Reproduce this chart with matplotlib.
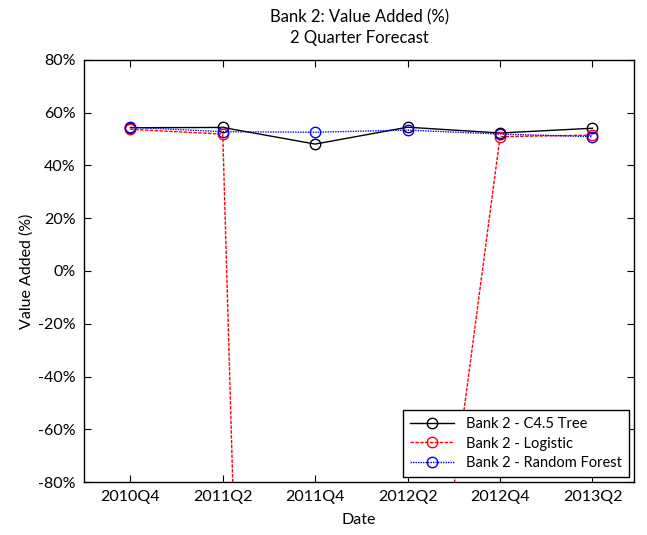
import numpy as np
import matplotlib
matplotlib.use('Agg')
import matplotlib.pyplot as plt

plt.rcParams['font.family'] = ['Lato', 'DejaVu Sans']

# data (percent)
quarters = ['2010Q4', '2011Q2', '2011Q4', '2012Q2', '2012Q4', '2013Q2']
c45_tree = [54.3, 54.4, 48.1, 54.5, 52.3, 54.1]
logistic = [53.7, 51.9, -1170.0, -215.0, 50.9, 51.5]
random_forest = [54.5, 52.8, 52.6, 53.4, 51.9, 50.9]

x = np.arange(len(quarters))

fig = plt.figure(figsize=(6.47, 5.35), dpi=100)
ax = fig.add_axes([0.13, 0.099, 0.85, 0.789])

ax.plot(x, c45_tree, color='black', linestyle='-', linewidth=1,
        marker='o', markersize=7.5, markerfacecolor='none', label='Bank 2 - C4.5 Tree')
ax.plot(x, logistic, color='red', linestyle='--', linewidth=1, dashes=(2.5, 1),
        marker='o', markersize=7.5, markerfacecolor='none', label='Bank 2 - Logistic')
ax.plot(x, random_forest, color='blue', linestyle=':', linewidth=1, dashes=(1, 0.8),
        marker='o', markersize=7.5, markerfacecolor='none', label='Bank 2 - Random Forest')

ax.set_xlim(-0.5, 5.45)
ax.set_ylim(-80, 80)
ax.set_xticks(x)
ax.set_xticklabels(quarters)
yt = np.arange(-80, 81, 20)
ax.set_yticks(yt)
ax.set_yticklabels(['%d%%' % v for v in yt])
ax.tick_params(direction='in', top=True, right=True, length=5, labelsize=11.5, pad=6)
for s in ax.spines.values():
    s.set_linewidth(1)

ax.set_xlabel('Date', fontsize=11.5, labelpad=6)
ax.set_ylabel('Value Added (%)', fontsize=11.5, labelpad=3)
ax.set_title('Bank 2: Value Added (%)\n2 Quarter Forecast', fontsize=12, pad=12, linespacing=1.4)

leg = ax.legend(loc='lower right', fontsize=10.5, fancybox=False, framealpha=1,
                edgecolor='black', borderaxespad=0.35, handlelength=3.0,
                labelspacing=0.35, borderpad=0.5)
leg.get_frame().set_linewidth(1)

fig.savefig('out.png', dpi=100)
